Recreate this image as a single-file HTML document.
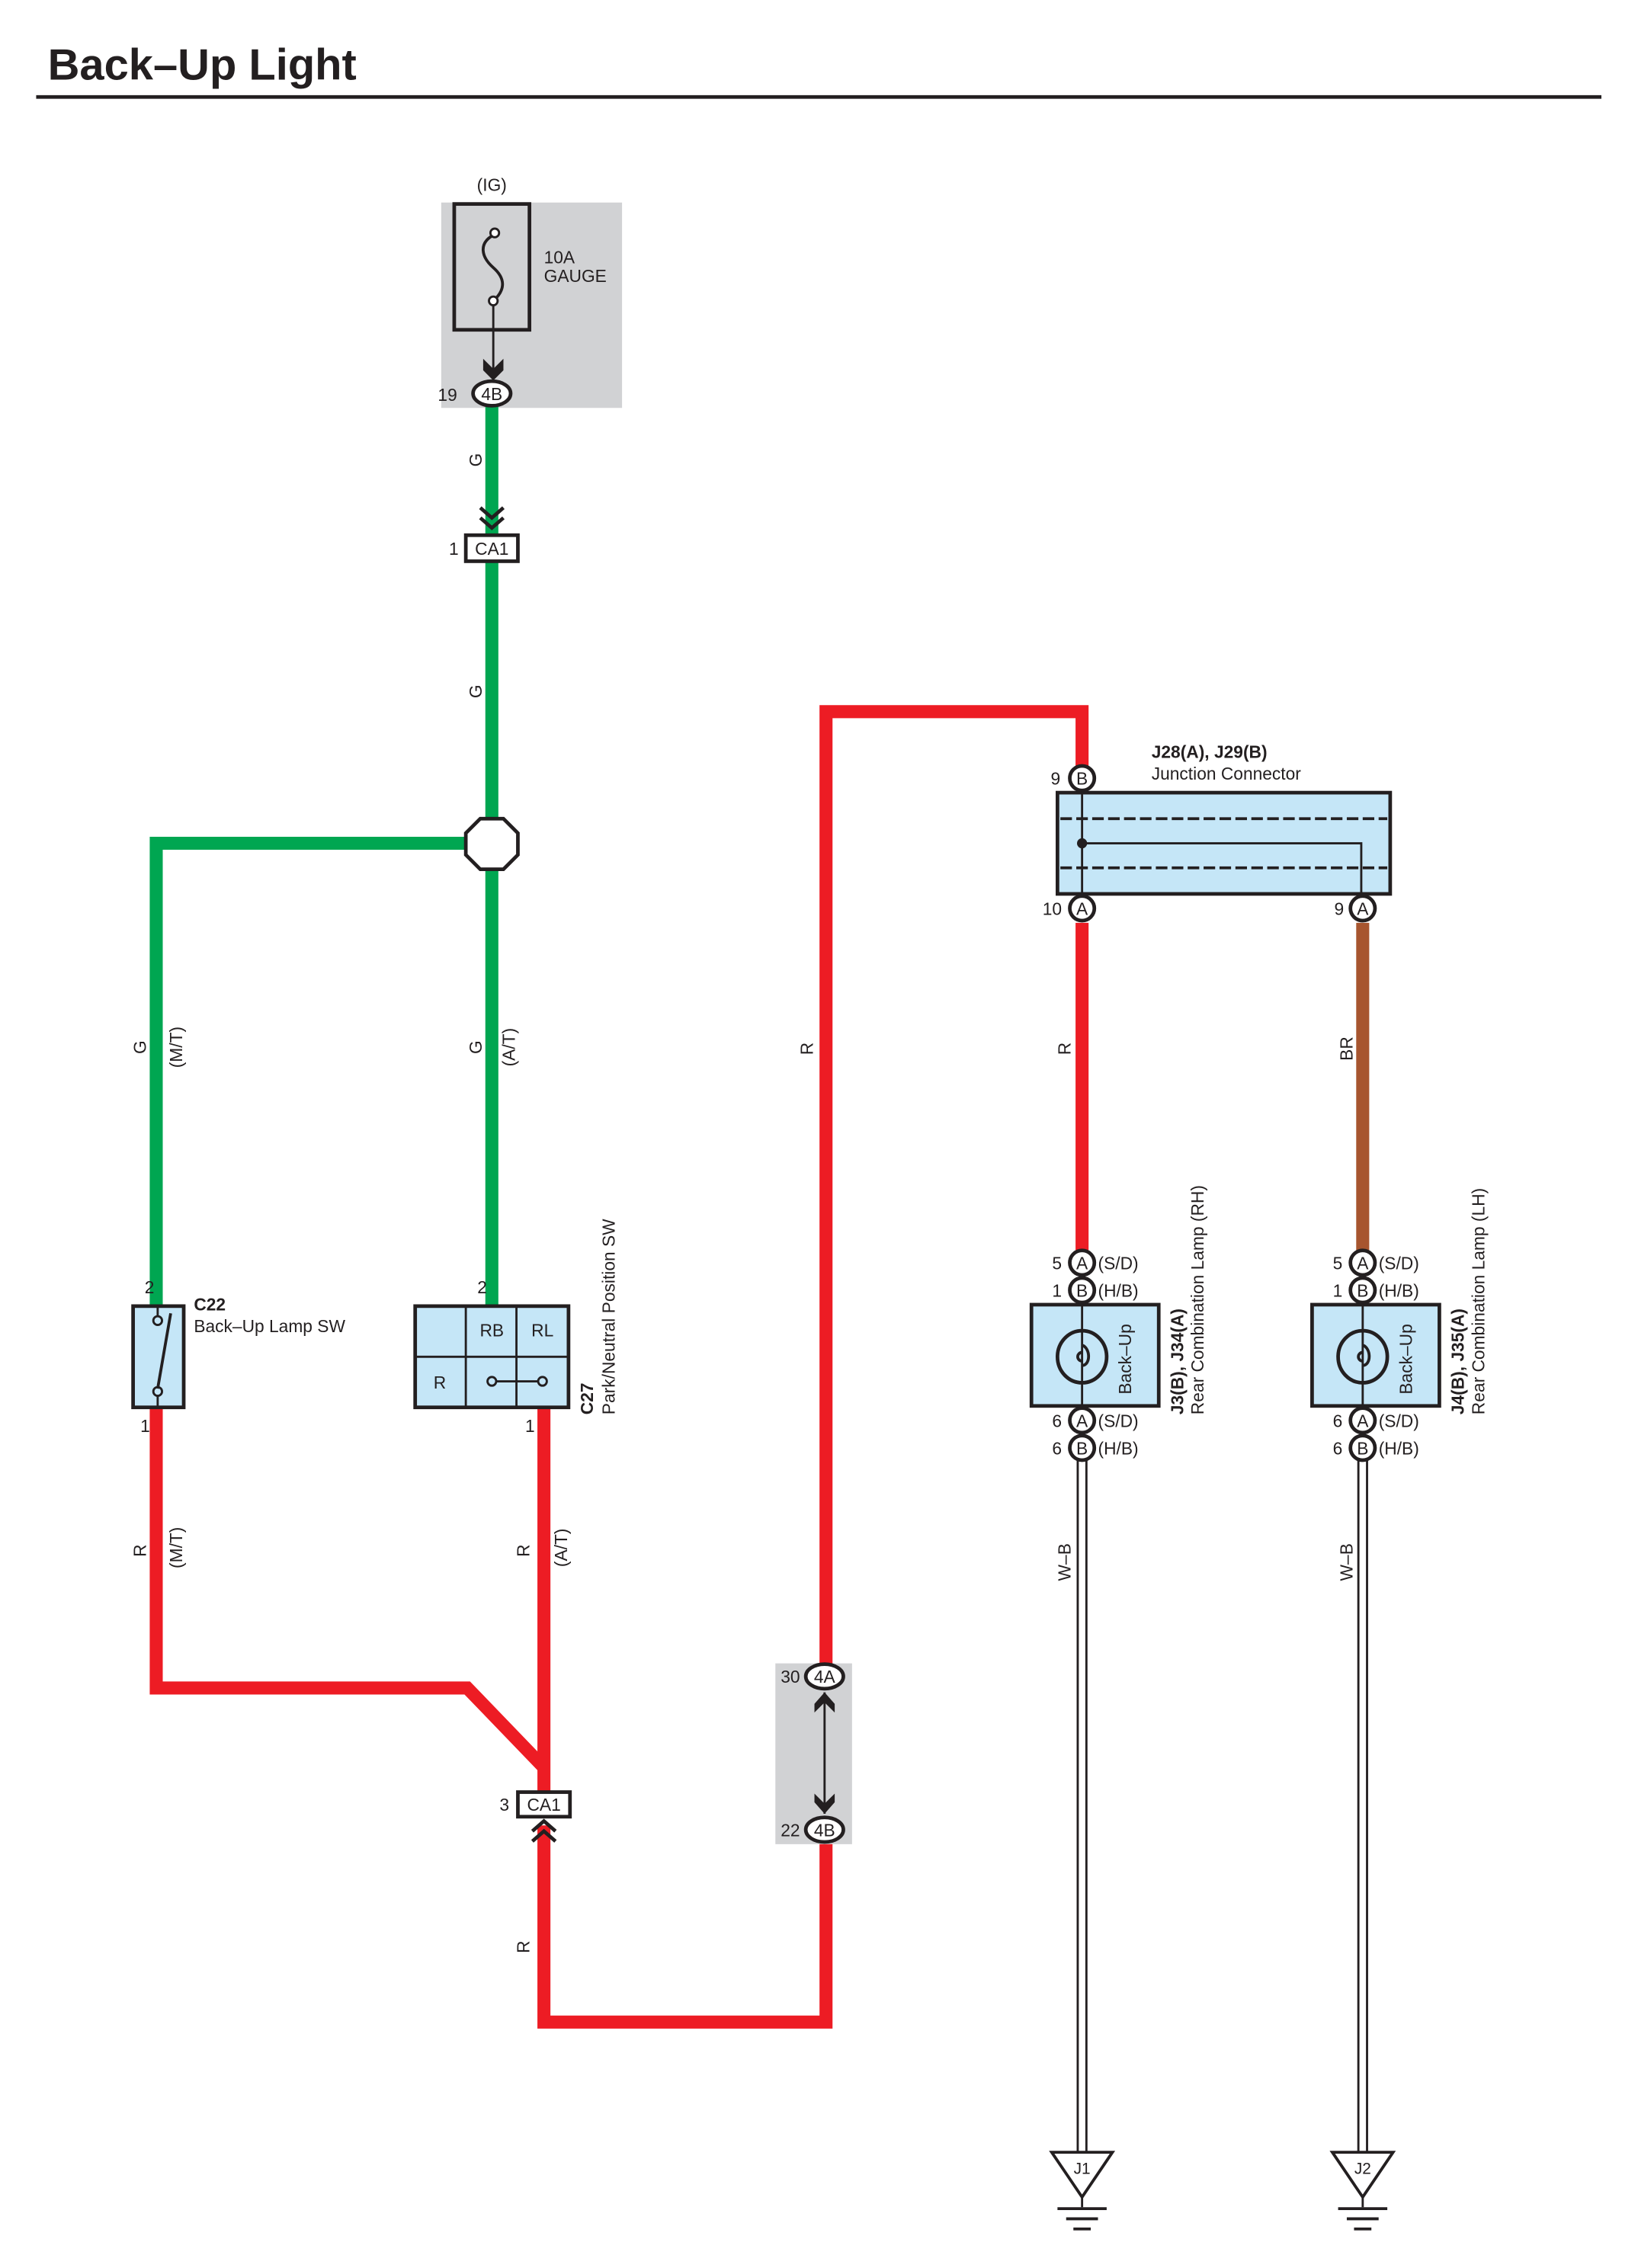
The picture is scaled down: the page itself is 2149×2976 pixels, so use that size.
<!DOCTYPE html>
<html><head><meta charset="utf-8"><style>
html,body{margin:0;padding:0;background:#fff}
svg{display:block}
text{font-family:"Liberation Sans",sans-serif;fill:#231f20}
</style></head><body>
<svg width="2149" height="2976" viewBox="0 0 1132.3 1568" xmlns="http://www.w3.org/2000/svg">
<text x="33" y="55" font-size="30.5" font-weight="bold">Back–Up Light</text>
<line x1="25" y1="67" x2="1107" y2="67" stroke="#231f20" stroke-width="2.5"/>

<text x="340" y="132" font-size="12" text-anchor="middle">(IG)</text>
<rect x="305" y="140" width="125" height="142" fill="#d1d2d4"/>
<rect x="314" y="141" width="52" height="87" fill="none" stroke="#231f20" stroke-width="2.5"/>
<path d="M342,162 C330,168 333,178 341,185 C349,192 350,200 341,208" fill="none" stroke="#231f20" stroke-width="2"/>
<circle cx="342" cy="161" r="3" fill="#fff" stroke="#231f20" stroke-width="1.5"/>
<circle cx="341" cy="208" r="3" fill="#fff" stroke="#231f20" stroke-width="1.5"/>
<line x1="341" y1="211" x2="341" y2="258" stroke="#231f20" stroke-width="1.5"/>
<path d="M334,248 L341,255 L348,248 L348,256 L341,263 L334,256 Z" fill="#231f20"/>
<text x="376" y="182" font-size="12">10A</text>
<text x="376" y="195" font-size="12">GAUGE</text>

<g stroke="#00a651" stroke-width="9" fill="none">
<line x1="340" y1="280" x2="340" y2="903"/>
<polyline points="340,583 108,583 108,903"/>
</g>
<ellipse cx="340" cy="272" rx="13" ry="8.5" fill="#fff" stroke="#231f20" stroke-width="2.5"/>
<text x="340" y="276.5" font-size="12" text-anchor="middle">4B</text>
<text x="316" y="277" font-size="12" text-anchor="end">19</text>
<polyline points="332,351 340,358 348,351" fill="none" stroke="#231f20" stroke-width="2.5"/>
<polyline points="332,358 340,365 348,358" fill="none" stroke="#231f20" stroke-width="2.5"/>
<rect x="322" y="370" width="36" height="18" fill="#fff" stroke="#231f20" stroke-width="2.5"/>
<text x="340" y="383.5" font-size="12" text-anchor="middle">CA1</text>
<text x="317" y="383.5" font-size="12" text-anchor="end">1</text>
<polygon points="332,566 348,566 358,576 358,591 348,601 332,601 322,591 322,576" fill="#fff" stroke="#231f20" stroke-width="2.5"/>

<g font-size="12">
<text transform="translate(333,318) rotate(-90)" text-anchor="middle">G</text>
<text transform="translate(333,478) rotate(-90)" text-anchor="middle">G</text>
<text transform="translate(101,724) rotate(-90)" text-anchor="middle">G</text>
<text transform="translate(126,724) rotate(-90)" text-anchor="middle">(M/T)</text>
<text transform="translate(333,724) rotate(-90)" text-anchor="middle">G</text>
<text transform="translate(356,724) rotate(-90)" text-anchor="middle">(A/T)</text>
</g>

<g stroke="#ed1c24" stroke-width="9" fill="none" stroke-linejoin="miter">
<polyline points="108,973 108,1167 323,1167 376,1222"/>
<line x1="376" y1="973" x2="376" y2="1240"/>
<polyline points="376,1262 376,1398 571,1398 571,1272"/>
<polyline points="571,1150 571,492 748,492 748,538"/>
<line x1="748" y1="638" x2="748" y2="866"/>
</g>
<line x1="942" y1="638" x2="942" y2="866" stroke="#a7552f" stroke-width="9"/>

<rect x="92" y="903" width="35" height="70" fill="#c5e6f7" stroke="#231f20" stroke-width="2.5"/>
<line x1="109" y1="903" x2="109" y2="910" stroke="#231f20" stroke-width="1.5"/>
<circle cx="109" cy="913" r="3" fill="none" stroke="#231f20" stroke-width="1.5"/>
<line x1="118" y1="908" x2="109" y2="960" stroke="#231f20" stroke-width="2"/>
<circle cx="109" cy="962" r="3" fill="none" stroke="#231f20" stroke-width="1.5"/>
<line x1="109" y1="965" x2="109" y2="973" stroke="#231f20" stroke-width="1.5"/>
<text x="134" y="906" font-size="12" font-weight="bold">C22</text>
<text x="134" y="921" font-size="12">Back–Up Lamp SW</text>
<text x="100" y="894" font-size="12">2</text>
<text x="97" y="990" font-size="12">1</text>

<rect x="287" y="903" width="106" height="70" fill="#c5e6f7" stroke="#231f20" stroke-width="2.5"/>
<line x1="322" y1="903" x2="322" y2="973" stroke="#231f20" stroke-width="1.5"/>
<line x1="357" y1="903" x2="357" y2="973" stroke="#231f20" stroke-width="1.5"/>
<line x1="287" y1="938" x2="393" y2="938" stroke="#231f20" stroke-width="1.5"/>
<text x="340" y="924" font-size="12" text-anchor="middle">RB</text>
<text x="375" y="924" font-size="12" text-anchor="middle">RL</text>
<text x="304" y="960" font-size="12" text-anchor="middle">R</text>
<line x1="340" y1="955" x2="375" y2="955" stroke="#231f20" stroke-width="1.5"/>
<circle cx="340" cy="955" r="3" fill="#c5e6f7" stroke="#231f20" stroke-width="1.5"/>
<circle cx="375" cy="955" r="3" fill="#c5e6f7" stroke="#231f20" stroke-width="1.5"/>
<text x="330" y="894" font-size="12">2</text>
<text x="363" y="990" font-size="12">1</text>
<text transform="translate(410,978) rotate(-90)" font-size="12" font-weight="bold">C27</text>
<text transform="translate(425,978) rotate(-90)" font-size="12">Park/Neutral Position SW</text>

<g font-size="12">
<text transform="translate(101,1072) rotate(-90)" text-anchor="middle">R</text>
<text transform="translate(126,1070) rotate(-90)" text-anchor="middle">(M/T)</text>
<text transform="translate(366,1072) rotate(-90)" text-anchor="middle">R</text>
<text transform="translate(392,1070) rotate(-90)" text-anchor="middle">(A/T)</text>
<text transform="translate(366,1346) rotate(-90)" text-anchor="middle">R</text>
<text transform="translate(562,725) rotate(-90)" text-anchor="middle">R</text>
<text transform="translate(740,725) rotate(-90)" text-anchor="middle">R</text>
<text transform="translate(935,725) rotate(-90)" text-anchor="middle">BR</text>
<text transform="translate(740,1080) rotate(-90)" text-anchor="middle">W–B</text>
<text transform="translate(935,1080) rotate(-90)" text-anchor="middle">W–B</text>
</g>

<rect x="358" y="1239" width="36" height="17" fill="#fff" stroke="#231f20" stroke-width="2.5"/>
<text x="376" y="1252" font-size="12" text-anchor="middle">CA1</text>
<text x="352" y="1252" font-size="12" text-anchor="end">3</text>
<polyline points="368,1266 376,1259 384,1266" fill="none" stroke="#231f20" stroke-width="2.5"/>
<polyline points="368,1273 376,1266 384,1273" fill="none" stroke="#231f20" stroke-width="2.5"/>

<rect x="536" y="1150" width="53" height="125" fill="#d1d2d4"/>
<line x1="570" y1="1170" x2="570" y2="1254" stroke="#231f20" stroke-width="1.5"/>
<path d="M563,1178 L570,1170 L577,1178 L577,1184 L570,1177 L563,1184 Z" fill="#231f20"/>
<path d="M563,1246 L570,1254 L577,1246 L577,1240 L570,1247 L563,1240 Z" fill="#231f20"/>
<ellipse cx="570" cy="1159" rx="13" ry="8.5" fill="#fff" stroke="#231f20" stroke-width="2.5"/>
<text x="570" y="1163.5" font-size="12" text-anchor="middle">4A</text>
<text x="553" y="1163.5" font-size="12" text-anchor="end">30</text>
<ellipse cx="570" cy="1265" rx="13" ry="8.5" fill="#fff" stroke="#231f20" stroke-width="2.5"/>
<text x="570" y="1269.5" font-size="12" text-anchor="middle">4B</text>
<text x="553" y="1269.5" font-size="12" text-anchor="end">22</text>

<rect x="731" y="548" width="230" height="70" fill="#c5e6f7" stroke="#231f20" stroke-width="2.5"/>
<line x1="733" y1="566" x2="959" y2="566" stroke="#231f20" stroke-width="2" stroke-dasharray="8,3"/>
<line x1="733" y1="600" x2="959" y2="600" stroke="#231f20" stroke-width="2" stroke-dasharray="8,3"/>
<line x1="748" y1="538" x2="748" y2="628" stroke="#231f20" stroke-width="1.5"/>
<polyline points="748,583 941,583 941,628" fill="none" stroke="#231f20" stroke-width="1.5"/>
<circle cx="748" cy="583" r="3.5" fill="#231f20"/>
<text x="796" y="524" font-size="12" font-weight="bold">J28(A), J29(B)</text>
<text x="796" y="539" font-size="12">Junction Connector</text>
<g font-size="12" text-anchor="middle">
<circle cx="748" cy="538" r="8.5" fill="#fff" stroke="#231f20" stroke-width="2.5"/><text x="748" y="542.5">B</text>
<circle cx="748" cy="628" r="8.5" fill="#fff" stroke="#231f20" stroke-width="2.5"/><text x="748" y="632.5">A</text>
<circle cx="942" cy="628" r="8.5" fill="#fff" stroke="#231f20" stroke-width="2.5"/><text x="942" y="632.5">A</text>
</g>
<text x="733" y="542.5" font-size="12" text-anchor="end">9</text>
<text x="734" y="632.5" font-size="12" text-anchor="end">10</text>
<text x="929" y="632.5" font-size="12" text-anchor="end">9</text>

<g id="lampR">
<line x1="745" y1="1010" x2="745" y2="1488" stroke="#231f20" stroke-width="1.5"/>
<line x1="751" y1="1010" x2="751" y2="1488" stroke="#231f20" stroke-width="1.5"/>
<rect x="713" y="902" width="88" height="70" fill="#c5e6f7" stroke="#231f20" stroke-width="2.5"/>
<line x1="748" y1="902" x2="748" y2="972" stroke="#231f20" stroke-width="1.5"/>
<ellipse cx="748" cy="938" rx="17" ry="18" fill="none" stroke="#231f20" stroke-width="2.5"/>
<path d="M748,930 C754,932 754,944 748,944" fill="none" stroke="#231f20" stroke-width="2"/>
<path d="M748,935 a3,3 0 1 0 0,6" fill="none" stroke="#231f20" stroke-width="2"/>
<text transform="translate(782,964) rotate(-90)" font-size="12" fill="#231f20">Back–Up</text>
<g font-size="12">
<circle cx="748" cy="873" r="8.5" fill="#fff" stroke="#231f20" stroke-width="2.5"/><text x="748" y="877.5" text-anchor="middle">A</text>
<circle cx="748" cy="892" r="8.5" fill="#fff" stroke="#231f20" stroke-width="2.5"/><text x="748" y="896.5" text-anchor="middle">B</text>
<circle cx="748" cy="982" r="8.5" fill="#fff" stroke="#231f20" stroke-width="2.5"/><text x="748" y="986.5" text-anchor="middle">A</text>
<circle cx="748" cy="1001" r="8.5" fill="#fff" stroke="#231f20" stroke-width="2.5"/><text x="748" y="1005.5" text-anchor="middle">B</text>
<text x="734" y="877.5" text-anchor="end">5</text><text x="759" y="877.5">(S/D)</text>
<text x="734" y="896.5" text-anchor="end">1</text><text x="759" y="896.5">(H/B)</text>
<text x="734" y="986.5" text-anchor="end">6</text><text x="759" y="986.5">(S/D)</text>
<text x="734" y="1005.5" text-anchor="end">6</text><text x="759" y="1005.5">(H/B)</text>
</g>
<polygon points="727,1488 769,1488 748,1519" fill="#fff" stroke="#231f20" stroke-width="2"/>
<line x1="748" y1="1519" x2="748" y2="1526" stroke="#231f20" stroke-width="1.5"/>
<line x1="731" y1="1527" x2="765" y2="1527" stroke="#231f20" stroke-width="2"/>
<line x1="737" y1="1534" x2="759" y2="1534" stroke="#231f20" stroke-width="2"/>
<line x1="742" y1="1541" x2="754" y2="1541" stroke="#231f20" stroke-width="2"/>
</g>
<text x="748" y="1503" font-size="11" text-anchor="middle">J1</text>
<use href="#lampR" transform="translate(194,0)"/>
<text x="942" y="1503" font-size="11" text-anchor="middle">J2</text>

<text transform="translate(818,978) rotate(-90)" font-size="12" font-weight="bold">J3(B), J34(A)</text>
<text transform="translate(832,978) rotate(-90)" font-size="12">Rear Combination Lamp (RH)</text>
<text transform="translate(1012,978) rotate(-90)" font-size="12" font-weight="bold">J4(B), J35(A)</text>
<text transform="translate(1026,978) rotate(-90)" font-size="12">Rear Combination Lamp (LH)</text>
</svg>
</body></html>
